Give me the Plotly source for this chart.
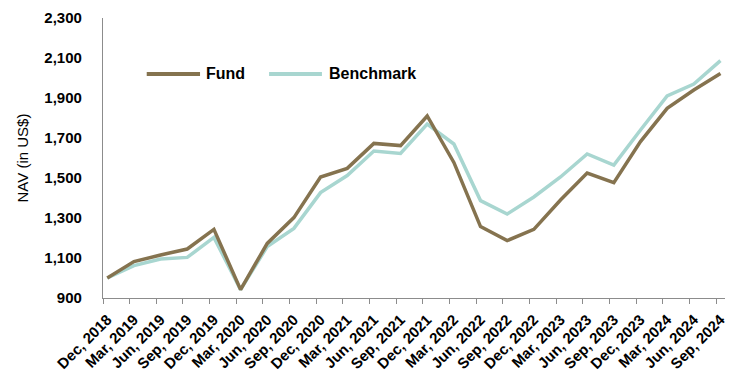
import plotly.graph_objects as go

# Quarter-end labels
quarters = [
    "Dec, 2018", "Mar, 2019", "Jun, 2019", "Sep, 2019", "Dec, 2019",
    "Mar, 2020", "Jun, 2020", "Sep, 2020", "Dec, 2020", "Mar, 2021",
    "Jun, 2021", "Sep, 2021", "Dec, 2021", "Mar, 2022", "Jun, 2022",
    "Sep, 2022", "Dec, 2022", "Mar, 2023", "Jun, 2023", "Sep, 2023",
    "Dec, 2023", "Mar, 2024", "Jun, 2024", "Sep, 2024",
]

# NAV of 1,000 invested at inception (US$)
fund = [1000, 1082, 1115, 1145, 1243, 942, 1173, 1302, 1505, 1548,
        1673, 1662, 1810, 1578, 1257, 1187, 1243, 1390, 1525, 1477,
        1682, 1848, 1940, 2023]
benchmark = [1000, 1062, 1095, 1103, 1203, 942, 1157, 1248, 1427, 1512,
             1635, 1623, 1770, 1670, 1387, 1320, 1405, 1505, 1620, 1565,
             1740, 1910, 1970, 2087]

series_names = ["Fund", "Benchmark"]
y_ticks = [900, 1100, 1300, 1500, 1700, 1900, 2100, 2300]

FUND_COLOR = "#85734F"
BENCH_COLOR = "#A8D6D0"
AXIS_COLOR = "#8C8C8C"
FONT = "Liberation Sans, Arial, sans-serif"

x_idx = list(range(len(quarters)))

fig = go.Figure()
fig.add_trace(go.Scatter(x=x_idx, y=benchmark, mode="lines", name=series_names[1],
                         line=dict(color=BENCH_COLOR, width=3.5), showlegend=False))
fig.add_trace(go.Scatter(x=x_idx, y=fund, mode="lines", name=series_names[0],
                         line=dict(color=FUND_COLOR, width=3.5), showlegend=False))

# Hand-built legend keys (longer line samples than the native legend offers)
legend_items = [
    (series_names[0], FUND_COLOR, 0.0703, 0.156, 0.163),
    (series_names[1], BENCH_COLOR, 0.267, 0.352, 0.360),
]
for name, color, x0, x1, xt in legend_items:
    fig.add_shape(type="line", xref="paper", yref="paper", x0=x0, x1=x1, y0=0.8, y1=0.8,
                  line=dict(color=color, width=4))
    fig.add_annotation(xref="paper", yref="paper", x=xt, y=0.8, text="<b>%s</b>" % name,
                       showarrow=False, xanchor="left", yanchor="middle",
                       font=dict(family=FONT, size=16, color="#000000"))

fig.update_layout(
    width=736, height=371,
    margin=dict(l=103, r=11, t=18, b=73),
    paper_bgcolor="white", plot_bgcolor="white",
    font=dict(family=FONT, color="#000000"),
)

fig.update_xaxes(
    range=[-0.16, 23.17], automargin=False,
    tickmode="array", tickvals=x_idx, ticktext=["<b>%s</b>" % q for q in quarters],
    tickangle=-45, tickfont=dict(size=15, family=FONT, color="#000000"),
    ticks="", ticklabelstandoff=6, showgrid=False, zeroline=False,
    showline=True, linecolor=AXIS_COLOR, linewidth=1.3,
    minor=dict(ticks="outside", tick0=-0.16, dtick=1, ticklen=5,
               tickcolor=AXIS_COLOR, tickwidth=1.3, showgrid=False),
)

fig.update_yaxes(
    range=[900, 2300], automargin=False,
    tickmode="array", tickvals=y_ticks, ticktext=["<b>{:,}</b>".format(v) for v in y_ticks],
    tickfont=dict(size=15, family=FONT, color="#000000"),
    ticks="", ticklabelstandoff=17,
    showgrid=False, zeroline=False,
    showline=True, linecolor=AXIS_COLOR, linewidth=1.3,
    title=dict(text="NAV (in US$)", font=dict(size=15, family=FONT, color="#000000"),
               standoff=12),
)

fig.write_html("out.html")
